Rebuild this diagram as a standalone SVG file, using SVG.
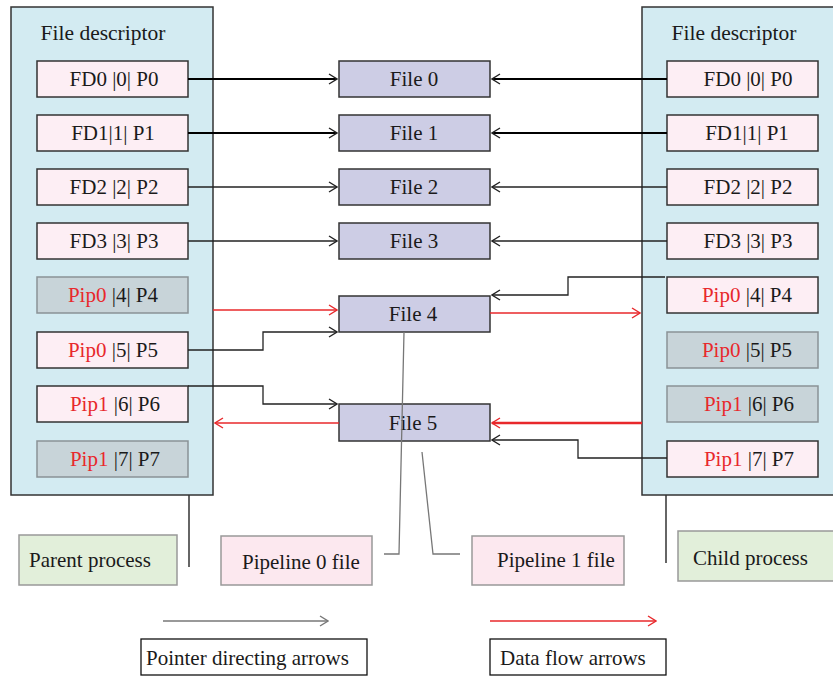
<svg xmlns="http://www.w3.org/2000/svg" width="833" height="676" viewBox="0 0 833 676">
  <style>
    text { font-family: "Liberation Serif", "Times New Roman", serif; font-size: 21px; fill: #1a1a1a; }
    .mid { text-anchor: middle; }
    .head { font-size: 21.5px; }
    .red { fill: #e8282b; }
    .panel { fill: #d3ebf2; stroke: #333; stroke-width: 1.5; }
    .fd { fill: #fdeef4; stroke: #333; stroke-width: 1.5; }
    .fdoff { fill: #c8d4d9; stroke: #8a9296; stroke-width: 1.5; }
    .file { fill: #cdcde5; stroke: #333; stroke-width: 1.5; }
    .pipe { fill: #fce8ef; stroke: #999; stroke-width: 1.5; }
    .proc { fill: #e2efda; stroke: #999; stroke-width: 1.5; }
    .legend { fill: #fff; stroke: #111; stroke-width: 1.3; }
    .ptr { fill: none; stroke: #222; stroke-width: 1.3; marker-end: url(#headBlack); }
    .ptrBold { fill: none; stroke: #000; stroke-width: 2.2; marker-end: url(#headBlack); }
    .flow { fill: none; stroke: #e8282b; stroke-width: 1.3; marker-end: url(#headRed); }
    .flowBold { fill: none; stroke: #e8282b; stroke-width: 2.4; marker-end: url(#headRed); }
    .tag { fill: none; stroke: #777; stroke-width: 1.3; }
    .stem { fill: none; stroke: #333; stroke-width: 1.5; }
  </style>
  <defs>
    <marker id="headBlack" viewBox="0 0 10 12" refX="9" refY="6" markerWidth="10" markerHeight="12" markerUnits="userSpaceOnUse" orient="auto">
      <path d="M1,1 L9,6 L1,11" fill="none" stroke="#222" stroke-width="1.4"/>
    </marker>
    <marker id="headRed" viewBox="0 0 10 12" refX="9" refY="6" markerWidth="10" markerHeight="12" markerUnits="userSpaceOnUse" orient="auto">
      <path d="M1,1 L9,6 L1,11" fill="none" stroke="#e8282b" stroke-width="1.4"/>
    </marker>
    <marker id="headGray" viewBox="0 0 10 12" refX="9" refY="6" markerWidth="10" markerHeight="12" markerUnits="userSpaceOnUse" orient="auto">
      <path d="M1,1 L9,6 L1,11" fill="none" stroke="#777" stroke-width="1.4"/>
    </marker>
  </defs>

  <!-- parent process descriptor table -->
  <g id="parent-table">
    <rect class="panel" x="11" y="7" width="202" height="488"/>
    <text class="mid head" x="103" y="40">File descriptor</text>
  </g>
  <g id="p-fd0"><rect class="fd" x="37" y="61" width="151" height="36"/><text class="mid" x="114" y="86">FD0 |0| P0</text></g>
  <g id="p-fd1"><rect class="fd" x="37" y="115" width="151" height="36"/><text class="mid" x="113" y="140">FD1|1| P1</text></g>
  <g id="p-fd2"><rect class="fd" x="37" y="169" width="151" height="36"/><text class="mid" x="114" y="194">FD2 |2| P2</text></g>
  <g id="p-fd3"><rect class="fd" x="37" y="223" width="151" height="36"/><text class="mid" x="114" y="248">FD3 |3| P3</text></g>
  <g id="p-fd4"><rect class="fdoff" x="37" y="277" width="151" height="36"/><text class="mid" x="113" y="302"><tspan class="red">Pip0</tspan> |4| P4</text></g>
  <g id="p-fd5"><rect class="fd" x="37" y="332" width="151" height="36"/><text class="mid" x="113" y="357"><tspan class="red">Pip0</tspan> |5| P5</text></g>
  <g id="p-fd6"><rect class="fd" x="37" y="386" width="151" height="36"/><text class="mid" x="115" y="411"><tspan class="red">Pip1</tspan> |6| P6</text></g>
  <g id="p-fd7"><rect class="fdoff" x="37" y="441" width="151" height="36"/><text class="mid" x="115" y="466"><tspan class="red">Pip1</tspan> |7| P7</text></g>

  <!-- child process descriptor table -->
  <g id="child-table">
    <rect class="panel" x="642" y="7" width="200" height="488"/>
    <text class="mid head" x="734" y="40">File descriptor</text>
  </g>
  <g id="c-fd0"><rect class="fd" x="667" y="61" width="151" height="36"/><text class="mid" x="748" y="86">FD0 |0| P0</text></g>
  <g id="c-fd1"><rect class="fd" x="667" y="115" width="151" height="36"/><text class="mid" x="747" y="140">FD1|1| P1</text></g>
  <g id="c-fd2"><rect class="fd" x="667" y="169" width="151" height="36"/><text class="mid" x="748" y="194">FD2 |2| P2</text></g>
  <g id="c-fd3"><rect class="fd" x="667" y="223" width="151" height="36"/><text class="mid" x="748" y="248">FD3 |3| P3</text></g>
  <g id="c-fd4"><rect class="fd" x="667" y="277" width="151" height="36"/><text class="mid" x="747" y="302"><tspan class="red">Pip0</tspan> |4| P4</text></g>
  <g id="c-fd5"><rect class="fdoff" x="667" y="332" width="151" height="36"/><text class="mid" x="747" y="357"><tspan class="red">Pip0</tspan> |5| P5</text></g>
  <g id="c-fd6"><rect class="fdoff" x="667" y="386" width="151" height="36"/><text class="mid" x="749" y="411"><tspan class="red">Pip1</tspan> |6| P6</text></g>
  <g id="c-fd7"><rect class="fd" x="667" y="441" width="151" height="36"/><text class="mid" x="749" y="466"><tspan class="red">Pip1</tspan> |7| P7</text></g>

  <!-- shared open-file table -->
  <g id="file0"><rect class="file" x="339" y="61" width="151" height="36"/><text class="mid" x="414" y="86">File 0</text></g>
  <g id="file1"><rect class="file" x="339" y="115" width="151" height="36"/><text class="mid" x="414" y="140">File 1</text></g>
  <g id="file2"><rect class="file" x="339" y="169" width="151" height="36"/><text class="mid" x="414" y="194">File 2</text></g>
  <g id="file3"><rect class="file" x="339" y="223" width="151" height="36"/><text class="mid" x="414" y="248">File 3</text></g>
  <g id="file4"><rect class="file" x="339" y="296" width="151" height="36"/><text class="mid" x="413" y="321">File 4</text></g>
  <g id="file5"><rect class="file" x="339" y="404" width="151" height="37"/><text class="mid" x="413" y="430">File 5</text></g>

  <!-- captions -->
  <g id="parent-process"><rect class="proc" x="19" y="535" width="158" height="50"/><text x="29" y="567">Parent process</text></g>
  <g id="pipeline0"><rect class="pipe" x="221" y="536" width="151" height="49"/><text x="242" y="569">Pipeline 0 file</text></g>
  <g id="pipeline1"><rect class="pipe" x="472" y="536" width="152" height="49"/><text x="497" y="567">Pipeline 1 file</text></g>
  <g id="child-process"><rect class="proc" x="678" y="531" width="165" height="50"/><text x="693" y="565">Child process</text></g>

  <!-- legend -->
  <g id="legend-pointer">
    <path d="M163,621 H328" fill="none" stroke="#777" stroke-width="1.3" marker-end="url(#headGray)"/>
    <rect class="legend" x="141" y="639" width="226" height="36"/>
    <text x="146" y="665">Pointer directing arrows</text>
  </g>
  <g id="legend-flow">
    <path d="M490,621 H656" fill="none" stroke="#e8282b" stroke-width="1.3" marker-end="url(#headRed)"/>
    <rect class="legend" x="490" y="639" width="176" height="36"/>
    <text x="500" y="665">Data flow arrows</text>
  </g>

  <g id="connectors">
    <!-- parent descriptors to files -->
    <path class="ptrBold" d="M188,79 H337"/>
    <path class="ptrBold" d="M188,133 H337"/>
    <path class="ptr" d="M188,187 H337"/>
    <path class="ptr" d="M188,241 H337"/>
    <path class="ptr" d="M188,350 H263 V332 H337"/>
    <path class="ptr" d="M188,386 H263 V404 H337"/>
    <!-- child descriptors to files -->
    <path class="ptrBold" d="M667,79 H492"/>
    <path class="ptrBold" d="M667,133 H492"/>
    <path class="ptr" d="M667,187 H492"/>
    <path class="ptr" d="M667,241 H492"/>
    <path class="ptr" d="M665,277 H568 V295 H492"/>
    <path class="ptr" d="M667,458 H578 V440 H492"/>
    <!-- data flow through the pipes -->
    <path class="flow" d="M213,310 H337"/>
    <path class="flow" d="M490,313 H640"/>
    <path class="flowBold" d="M642,423 H492"/>
    <path class="flow" d="M339,423 H215"/>
    <!-- caption leaders -->
    <path class="stem" d="M189,495 V567"/>
    <path class="stem" d="M666,495 V563"/>
    <path class="tag" d="M404,332 L399,554 H384"/>
    <path class="tag" d="M422,452 L433,554 H460"/>
  </g>
</svg>
